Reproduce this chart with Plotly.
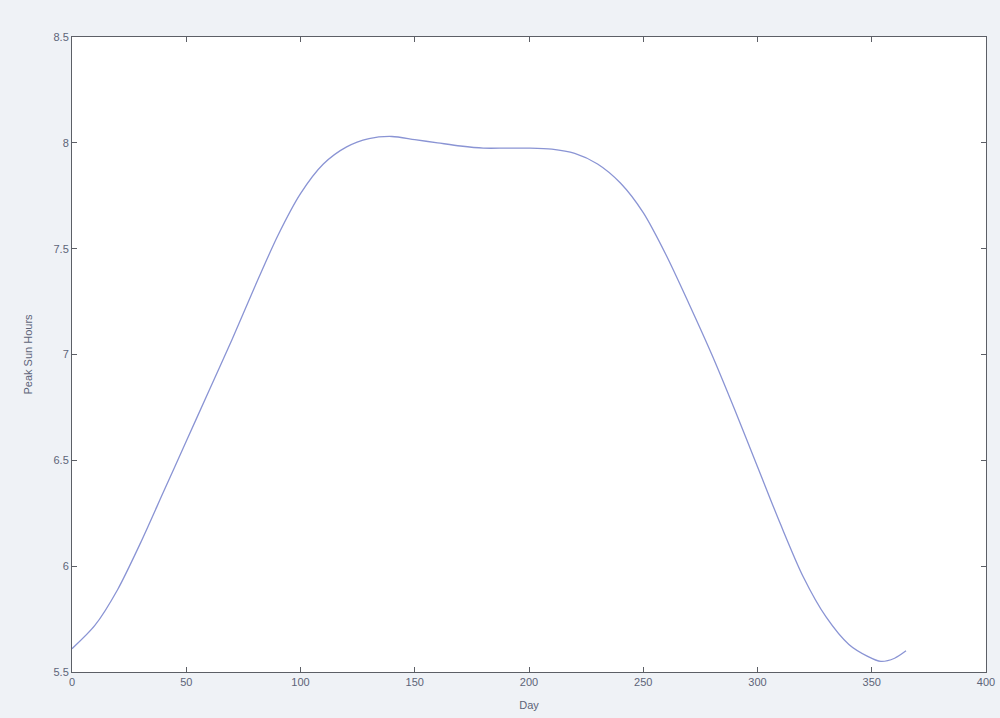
import plotly.graph_objects as go

days = [0, 10, 20, 30, 40, 50, 60, 70, 80, 90, 100, 110, 120, 130, 140, 150, 160, 170,
        180, 190, 200, 210, 220, 230, 240, 250, 260, 270, 280, 290, 300, 310, 320, 330,
        340, 348, 354, 360, 365]
psh = [5.61, 5.72, 5.89, 6.11, 6.35, 6.59, 6.83, 7.07, 7.32, 7.56, 7.76, 7.90, 7.98,
       8.02, 8.03, 8.015, 8.00, 7.985, 7.975, 7.975, 7.975, 7.97, 7.95, 7.90, 7.81, 7.67,
       7.47, 7.24, 7.00, 6.74, 6.47, 6.20, 5.95, 5.76, 5.63, 5.575, 5.55, 5.565, 5.60]

x_ticks = [0, 50, 100, 150, 200, 250, 300, 350, 400]
y_ticks = [5.5, 6, 6.5, 7, 7.5, 8, 8.5]
y_labels = ["5.5", "6", "6.5", "7", "7.5", "8", "8.5"]

fig = go.Figure()
fig.add_trace(go.Scatter(x=days, y=psh, mode="lines",
                         line=dict(color="#8a94d4", width=1.3, shape="spline", smoothing=0.8),
                         showlegend=False))

axis_common = dict(showline=True, linecolor="#5c5f66", linewidth=1, mirror="allticks",
                   ticks="inside", ticklen=5, tickcolor="#5c5f66", showgrid=False,
                   zeroline=False, automargin=False,
                   tickfont=dict(family="Arial, Liberation Sans", size=11, color="#5d6478"))

fig.update_layout(
    width=1000, height=718,
    margin=dict(l=72, r=14, t=37, b=46),
    paper_bgcolor="#eff2f6", plot_bgcolor="#ffffff",
    xaxis=dict(range=[0, 400], tickvals=x_ticks, ticktext=[str(v) for v in x_ticks],
               title=dict(text="Day", font=dict(family="Arial, Liberation Sans", size=11,
                                                color="#5d6478"), standoff=14),
               **axis_common),
    yaxis=dict(range=[5.5, 8.5], tickvals=y_ticks, ticktext=y_labels,
               title=dict(text="Peak Sun Hours", font=dict(family="Arial, Liberation Sans",
                                                           size=11, color="#5d6478"), standoff=18),
               **axis_common),
)

fig.write_html("out.html")
